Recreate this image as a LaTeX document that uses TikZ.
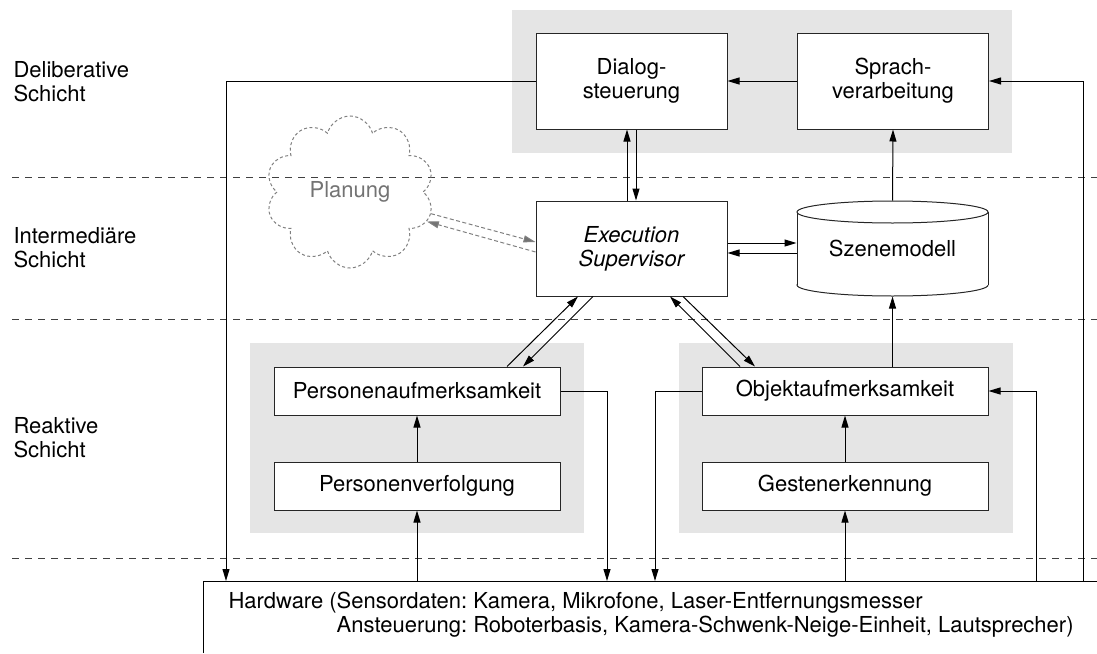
\documentclass[tikz,border=0pt]{standalone}
\usepackage{fontspec}
\setmainfont{TeX Gyre Heros}
\usetikzlibrary{shapes.symbols,arrows.meta}
\frenchspacing
\begin{document}
\begin{tikzpicture}[x=1pt,y=-1pt,
  font=\fontsize{22}{24}\selectfont,
  line width=1pt,
  arr/.style={-{Triangle[length=12pt,width=7pt]}},
  box/.style={draw=black!85, fill=white, inner sep=0pt, align=center},
  bigbox/.style={box, minimum width=191pt, minimum height=96pt},
  widebox/.style={box, minimum width=286pt, minimum height=48pt},
  panel/.style={fill=black!10, draw=none},
  layer/.style={draw=black!75, dash pattern=on 7pt off 6pt},
  planstyle/.style={draw=black!50, text=black!55, dash pattern=on 3pt off 2.5pt},
  planarrow/.style={draw=black!50, dash pattern=on 4pt off 2.5pt,
    -{Triangle[length=12pt,width=7pt,fill=black!55]}}
]
\useasboundingbox (0,0) rectangle (1097,653);

% grey panels grouping the modules of each layer
\fill[panel] (512,10) rectangle (1012,153);
\fill[panel] (250,343) rectangle (584,533);
\fill[panel] (679,343) rectangle (1013,533);

% layer separators
\draw[layer] (12,177) -- (1097,177);
\draw[layer] (12,319) -- (1097,319);
\draw[layer] (12,558) -- (1097,558);

% layer names
\node[anchor=base west, inner sep=0] (ldel) at (13,77)
  {\begin{tabular}[t]{@{}l@{}}Deliberative\\Schicht\end{tabular}};
\node[anchor=base west, inner sep=0] (lint) at (13,243)
  {\begin{tabular}[t]{@{}l@{}}Intermediäre\\Schicht\end{tabular}};
\node[anchor=base west, inner sep=0] (lrea) at (13,433)
  {\begin{tabular}[t]{@{}l@{}}Reaktive\\Schicht\end{tabular}};

% deliberative layer
\node[bigbox] (dialog) at (631.5,81) {Dialog-\\steuerung};
\node[bigbox] (sprach) at (893,81) {Sprach-\\verarbeitung};

% intermediate layer
\node[bigbox, minimum height=95pt, font=\fontsize{22}{24}\selectfont\itshape]
  (exec) at (631.5,248.5) {Execution\\Supervisor};
\node[cloud, cloud puffs=10, aspect=1.1, inner sep=0pt,
  minimum width=168pt, minimum height=152pt, planstyle] (plan) at (350,192) {Planung};

% scene model drawn as a cylinder
\draw[draw=black!85] (892.5,285) ellipse [x radius=95.5pt, y radius=11pt];
\fill[white] (797.5,212) rectangle (987.5,285);
\draw[draw=black!85] (797,212) -- (797,285) (988,212) -- (988,285);
\draw[draw=black!85, fill=white] (892.5,212) ellipse [x radius=95.5pt, y radius=11pt];
\node[inner sep=0pt, minimum width=191pt, minimum height=95pt] (szene) at (892.5,248.5) {Szenemodell};

% reactive layer
\node[widebox] (pauf) at (417,391) {Personenaufmerksamkeit};
\node[widebox] (pverf) at (417,486) {Personenverfolgung};
\node[widebox] (objekt) at (845,391) {Objektaufmerksamkeit};
\node[widebox] (gesten) at (845,486) {Gestenerkennung};

% hardware
\coordinate (hwtop) at (203,581);
\draw (203,653) -- (hwtop) -- (1097,581);
\node[anchor=base west, inner sep=0] (hwtext) at (228,608)
  {\begin{tabular}[t]{@{}l@{}}Hardware (Sensordaten: Kamera, Mikrofone, Laser-Entfernungsmesser\\
   \phantom{Hardware (}Ansteuerung: Roboterbasis, Kamera-Schwenk-Neige-Einheit, Lautsprecher)\end{tabular}};
\coordinate (hwA) at (226,581);
\coordinate (hwC) at (607,581);
\coordinate (hwD) at (655,581);
\coordinate (hwF) at (1036,581);
\coordinate (hwG) at (1083,581);

% connectors
\draw[arr] (sprach.west) -- (dialog.east);
\draw[arr] (dialog.west) -| (hwA);
\draw[arr] (hwG) |- (sprach.east);
\draw[arr] ([xshift=-4.5pt]exec.north) -- ([xshift=-4.5pt]dialog.south);
\draw[arr] ([xshift=4.5pt]dialog.south) -- ([xshift=4.5pt]exec.north);
\draw[arr] (szene.north) -- (sprach.south);
\draw[arr] ([yshift=5.5pt]exec.east) -- ([yshift=5.5pt]szene.west);
\draw[arr] ([yshift=-4.5pt]szene.west) -- ([yshift=-4.5pt]exec.east);
\draw[planarrow] (plan.-15) -- ([yshift=6.5pt]exec.west);
\draw[planarrow] ([yshift=-3.5pt]exec.west) -- (plan.-21);

\draw[arr] ([xshift=90pt]pauf.north) -- ([xshift=-53.5pt]exec.south);
\draw[arr] ([xshift=-38.5pt]exec.south) -- ([xshift=106pt]pauf.north);
\draw[arr] ([xshift=-105pt]objekt.north) -- ([xshift=38.5pt]exec.south);
\draw[arr] ([xshift=51.5pt]exec.south) -- ([xshift=-90pt]objekt.north);
\draw[arr] (szene.south |- objekt.north) -- (szene.south);

\draw[arr] (pverf.north) -- (pauf.south);
\draw[arr] (pverf.south |- hwtop) -- (pverf.south);
\draw[arr] (pauf.east) -| (hwC);
\draw[arr] (gesten.north) -- (objekt.south);
\draw[arr] (gesten.south |- hwtop) -- (gesten.south);
\draw[arr] (objekt.west) -| (hwD);
\draw[arr] (hwF) |- (objekt.east);
\end{tikzpicture}
\end{document}
